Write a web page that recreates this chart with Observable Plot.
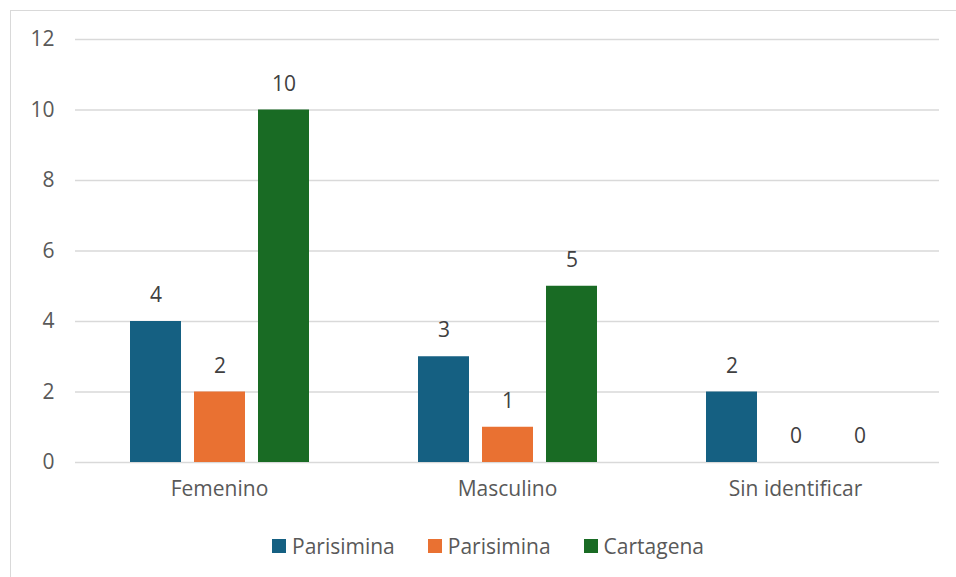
<!DOCTYPE html>
<html>
<head>
<meta charset="utf-8">
<script src="https://cdn.jsdelivr.net/npm/d3@7"></script>
<script src="https://cdn.jsdelivr.net/npm/@observablehq/plot@0.6"></script>
<style>
  html, body { margin: 0; padding: 0; background: #fff; }
  #wrap { position: relative; width: 956px; height: 577px; overflow: hidden; font-family: "Open Sans", sans-serif; }
  #frame { position: absolute; left: 10px; top: 10px; width: 960px; height: 600px; border: 1.5px solid #d9d9d9; box-sizing: border-box; }
  #chart { position: absolute; left: 0; top: 0; }
  #legend { position: absolute; left: 272px; top: 532px; display: flex; align-items: center; font-size: 21px; color: #595959; }
  .item { display: flex; align-items: center; margin-right: 33px; }
  .sw { width: 14px; height: 14px; margin-right: 6px; }
</style>
</head>
<body>
<div id="wrap">
  <div id="frame"></div>
  <div id="chart"></div>
  <div id="legend"></div>
</div>
<script>
const categories = ["Femenino", "Masculino", "Sin identificar"];
const seriesNames = ["Parisimina", "Parisimina", "Cartagena"];
const seriesKeys = ["s1", "s2", "s3"];
const seriesColors = ["#156082", "#E97132", "#196B24"];
const values1 = [4, 3, 2];
const values2 = [2, 1, 0];
const values3 = [10, 5, 0];
const yTicks = [0, 2, 4, 6, 8, 10, 12];

const allValues = [values1, values2, values3];
const data = [];
categories.forEach((c, i) => {
  seriesKeys.forEach((k, j) => {
    data.push({cat: c, key: k, value: allValues[j][i]});
  });
});

const chart = Plot.plot({
  width: 956,
  height: 520,
  marginLeft: 75,
  marginRight: 17,
  marginTop: 39,
  marginBottom: 58,
  style: {fontFamily: "'Open Sans', sans-serif", fontSize: "21px", color: "#595959", background: "transparent"},
  fx: {domain: categories, padding: 0, label: null, axis: "bottom", tickSize: 0, tickPadding: 19},
  x: {domain: seriesKeys, paddingInner: 0.21, paddingOuter: 0.85, axis: null},
  y: {domain: [0, 12], ticks: yTicks, label: null, tickSize: 0, tickPadding: 21},
  color: {domain: seriesKeys, range: seriesColors},
  marks: [
    Plot.ruleY(yTicks, {stroke: "#d9d9d9", strokeWidth: 1.5}),
    Plot.barY(data, {fx: "cat", x: "key", y: "value", fill: "key"}),
    Plot.text(data, {fx: "cat", x: "key", y: "value", text: d => String(d.value), dy: -26, fill: "#404040", fontSize: 21})
  ]
});
document.getElementById("chart").appendChild(chart);

const legend = document.getElementById("legend");
seriesNames.forEach((n, i) => {
  const it = document.createElement("div");
  it.className = "item";
  const sw = document.createElement("div");
  sw.className = "sw";
  sw.style.background = seriesColors[i];
  const t = document.createElement("span");
  t.textContent = n;
  it.appendChild(sw);
  it.appendChild(t);
  legend.appendChild(it);
});
</script>
</body>
</html>
